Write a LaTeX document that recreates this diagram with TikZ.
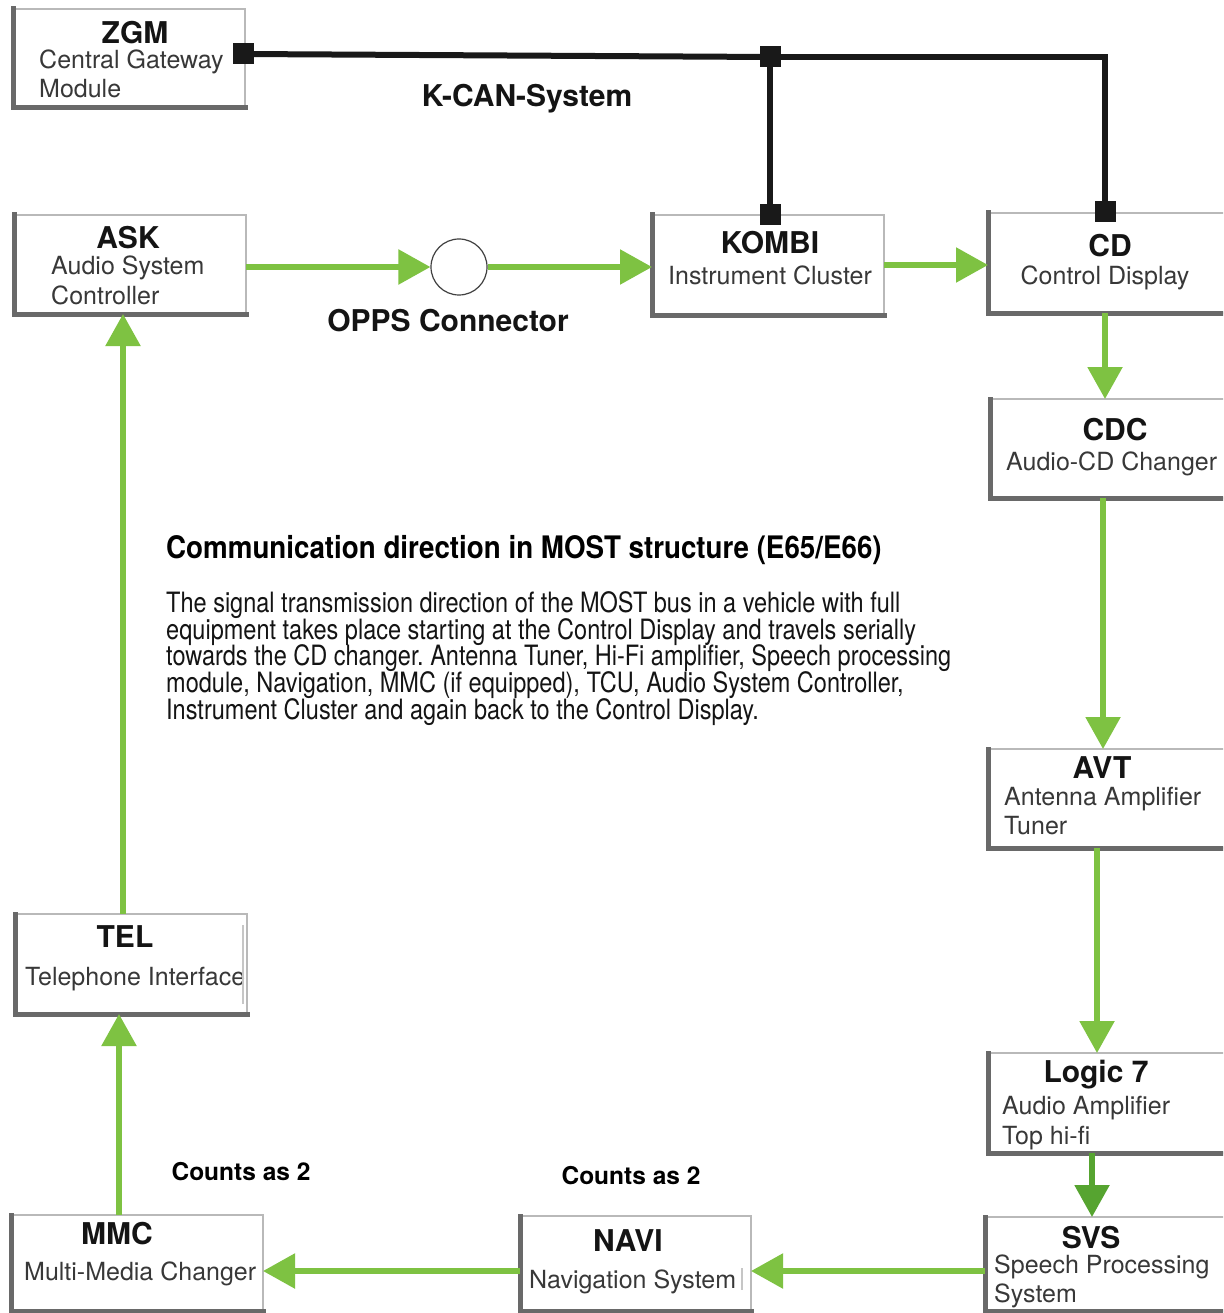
\documentclass[tikz,border=0pt]{standalone}
\usepackage{fontspec}
\setmainfont{TeX Gyre Heros}
\newfontfamily\condfont{TeX Gyre Heros}[FakeStretch=0.84]
\newfontfamily\headfont{TeX Gyre Heros}[FakeStretch=0.895]
\usetikzlibrary{arrows.meta,fit}
\definecolor{mostgreen}{RGB}{126,194,66}
\definecolor{mostdark}{RGB}{86,164,48}
\definecolor{shadegray}{RGB}{105,105,105}
\frenchspacing
\tikzset{
  box/.style={draw=gray!55, line width=1.2pt, fill=white, inner sep=0pt, outer sep=0pt, rectangle},
  shadeln/.style={draw=shadegray, line width=5pt, line cap=rect},
  ttl/.style={font=\fontsize{30}{30}\selectfont\bfseries, text=black!92, inner sep=0pt, anchor=base},
  sub/.style={font=\fontsize{25}{25}\selectfont, text=black!78, inner sep=0pt, anchor=base west},
  subc/.style={sub, anchor=base},
  lbl/.style={font=\fontsize{30}{30}\selectfont\bfseries, text=black!92, inner sep=0pt, anchor=base},
  cnt/.style={font=\fontsize{24.5}{24.5}\selectfont\bfseries, text=black, inner sep=0pt, anchor=base},
  para/.style={font=\condfont\fontsize{28}{28}\selectfont, text=black!92, inner sep=0pt, anchor=base west},
  headln/.style={font=\headfont\fontsize{31}{31}\selectfont\bfseries, text=black, inner sep=0pt, anchor=base west},
  flow/.style={draw=mostgreen, line width=5.5pt, -{Triangle[length=32pt,width=34pt]}},
  flowd/.style={flow, draw=mostdark, -{Triangle[length=32pt,width=34pt,fill=mostdark]}},
  kcan/.style={draw=black!90, line width=6pt},
  sq/.style={fill=black!90, minimum size=21pt, inner sep=0pt, rectangle},
  artif/.style={draw=gray!45, line width=1.5pt}
}
\begin{document}
\begin{tikzpicture}[x=1pt,y=-1pt]
\useasboundingbox (0,0) rectangle (1223,1313);
\clip (0,0) rectangle (1223,1313);
\fill[white] (0,0) rectangle (1223,1313);

% boxes
\node[box, fit={(13,9) (245,108)}] (zgm) {};
\node[box, fit={(14,215) (246,314)}] (ask) {};
\node[box, fit={(652,215) (884,315)}] (kombi) {};
\node[box, fit={(988,213) (1232,313)}] (cd) {};
\node[box, fit={(990,399) (1232,498)}] (cdc) {};
\node[box, fit={(988,749) (1232,848)}] (avt) {};
\node[box, fit={(988,1053) (1232,1153)}] (logic) {};
\node[box, fit={(985,1217) (1232,1311)}] (svs) {};
\node[box, fit={(520,1216) (751,1311)}] (navi) {};
\node[box, fit={(11,1215) (263,1311)}] (mmc) {};
\node[box, fit={(15,914) (247,1014)}] (tel) {};
\foreach \n in {zgm,ask,kombi,cd,cdc,avt,logic,svs,navi,mmc,tel}
  \draw[shadeln] (\n.north west) -- (\n.south west) -- (\n.south east);

% OPPS connector
\node[circle, draw=black!75, line width=1.2pt, fill=white, minimum size=56pt, inner sep=0pt] (opps) at (459,267) {};

% box texts
\node[ttl] (t-zgm) at (135,44) {ZGM};
\node[sub] (s-zgm1) at (39,69) {Central Gateway};
\node[sub] (s-zgm2) at (39,98) {Module};

\node[ttl] (t-ask) at (128,249) {ASK};
\node[sub] (s-ask1) at (51,275) {Audio System};
\node[sub] (s-ask2) at (51,305) {Controller};

\node[ttl] (t-kombi) at (770,254) {KOMBI};
\node[subc] (s-kombi) at (770,285) {Instrument Cluster};

\node[ttl] (t-cd) at (1110,257) {CD};
\node[subc] (s-cd) at (1105,285) {Control Display};

\node[ttl] (t-cdc) at (1115,440) {CDC};
\node[sub] (s-cdc) at (1006,470) {Audio-CD Changer};

\node[ttl] (t-avt) at (1102,778) {AVT};
\node[sub] (s-avt1) at (1004,805) {Antenna Amplifier};
\node[sub] (s-avt2) at (1004,834) {Tuner};

\node[ttl] (t-logic) at (1096,1082) {Logic 7};
\node[sub] (s-logic1) at (1002,1114) {Audio Amplifier};
\node[sub] (s-logic2) at (1002,1144) {Top hi-fi};

\node[ttl] (t-svs) at (1091,1248) {SVS};
\node[sub] (s-svs1) at (994,1273) {Speech Processing};
\node[sub] (s-svs2) at (994,1302) {System};

\node[ttl] (t-navi) at (628,1251) {NAVI};
\node[sub] (s-navi) at (529,1288) {Navigation System};
\draw[artif] (742,1268) -- (742,1290);

\node[ttl] (t-mmc) at (117,1244) {MMC};
\node[sub] (s-mmc) at (24,1280) {Multi-Media Changer};

\node[ttl] (t-tel) at (125,947) {TEL};
\node[sub] (s-tel) at (25,985) {Telephone Interface};
\draw[artif] (243,925) -- (243,1004);

% labels
\node[lbl] (l-kcan) at (527,107) {K-CAN-System};
\node[lbl] (l-opps) at (448,331) {OPPS Connector};
\node[cnt] (l-cnt1) at (241,1180) {Counts as 2};
\node[cnt] (l-cnt2) at (631,1184) {Counts as 2};

% description
\node[headln] (head) at (166,558) {Communication direction in MOST structure (E65/E66)};
\node[para] (p1) at (166,612) {The signal transmission direction of the MOST bus in a vehicle with full};
\node[para] (p2) at (166,639) {equipment takes place starting at the Control Display and travels serially};
\node[para] (p3) at (166,665) {towards the CD changer. Antenna Tuner, Hi-Fi amplifier, Speech processing};
\node[para] (p4) at (166,692) {module, Navigation, MMC (if equipped), TCU, Audio System Controller,};
\node[para] (p5) at (166,719) {Instrument Cluster and again back to the Control Display.};

% MOST ring
\draw[flow] (ask.east |- opps.west) -- (opps.west);
\draw[flow] (opps.east) -- (kombi.west |- opps.east);
\draw[flow] (kombi.east) -- (cd.west |- kombi.east);
\draw[flow] (1105,0 |- cd.south) -- (1105,0 |- cdc.north);
\draw[flow] (1103,0 |- cdc.south) -- (1103,0 |- avt.north);
\draw[flow] (1097,0 |- avt.south) -- (1097,0 |- logic.north);
\draw[flowd] (1092,0 |- logic.south) -- (1092,0 |- svs.north);
\draw[flow] (svs.west |- 0,1271) -- (navi.east |- 0,1271);
\draw[flow] (navi.west |- 0,1271) -- (mmc.east |- 0,1271);
\draw[flow] (119,0 |- mmc.north) -- (119,0 |- tel.south);
\draw[flow] (123,0 |- tel.north) -- (123,0 |- ask.south);

% K-CAN bus
\node[sq] (q0) at (243,54) {};
\node[sq] (q1) at (770,57) {};
\node[sq] (q2) at (770,215) {};
\node[sq] (q3) at (1105,212) {};
\draw[kcan] (q0.center) -- (q1.center);
\draw[kcan] (q1.center) -- (q3.center |- q1.center) -- (q3.center);
\draw[kcan] (q1.center) -- (q2.center);
\node[sq] at (q0) {};
\node[sq] at (q1) {};
\node[sq] at (q2) {};
\node[sq] at (q3) {};
\end{tikzpicture}
\end{document}
